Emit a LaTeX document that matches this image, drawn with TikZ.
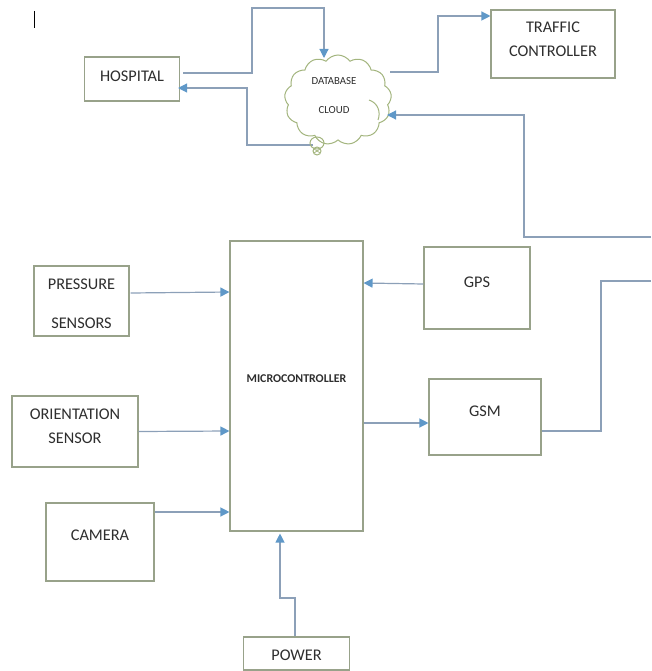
\documentclass[tikz,border=0pt]{standalone}
\usepackage{fontspec}
\setmainfont{Carlito}
\usetikzlibrary{arrows.meta,shapes.symbols}
\definecolor{boxline}{HTML}{98A28A}
\definecolor{cloudline}{HTML}{A3B57E}
\definecolor{wire}{HTML}{8CA0B8}
\definecolor{tip}{HTML}{5F98C8}
\definecolor{ink}{HTML}{2E2E2E}
\newcommand{\liftone}[2]{\makebox[0pt]{\raisebox{#1}[0pt][0pt]{#2}}}
\newcommand{\lifttwo}[4]{\liftone{#1}{#2}\liftone{#3}{#4}}
\tikzset{
  blockbox/.style={draw=boxline,line width=1.1pt,fill=white,inner sep=0pt,text=ink,font=\fontsize{16.3}{19}\selectfont,align=center},
  wirearrow/.style={draw=wire,line width=1.2pt,-{Triangle[length=9pt,width=9pt,fill=tip,color=tip]}},
  wireplain/.style={draw=wire,line width=1.2pt},
  cloudbox/.style={cloud,draw=cloudline,line width=1pt,fill=white,cloud puffs=13,cloud puff arc=110,aspect=1.2,inner sep=0pt,minimum width=107pt,minimum height=90pt,text=ink,font=\fontsize{10.8}{13}\selectfont,align=center}
}
\begin{document}
\begin{tikzpicture}[x=1pt,y=-1pt]
\useasboundingbox (0,0) rectangle (651,671);
% blocks
\node[blockbox,minimum width=95pt,minimum height=44pt] (hosp) at (132,79) {\liftone{-2.5pt}{HOSPITAL}};
\node[blockbox,minimum width=124pt,minimum height=68pt] (traf) at (553,44) {\lifttwo{11pt}{TRAFFIC}{-13pt}{CONTROLLER}};
\node[cloudbox] (db) at (338,100) {\kern-8pt\lifttwo{15.6pt}{DATABASE}{-13.4pt}{CLOUD}};
\node[blockbox,minimum width=133pt,minimum height=290pt,font=\fontsize{11.9}{14}\bfseries\selectfont] (mcu) at (296.5,386) {\liftone{4pt}{MICROCONTROLLER}};
\node[blockbox,minimum width=95pt,minimum height=70pt] (pres) at (81.5,301) {\lifttwo{12pt}{PRESSURE}{-27pt}{SENSORS}};
\node[blockbox,minimum width=126pt,minimum height=71pt] (orie) at (75,431.5) {\lifttwo{12pt}{ORIENTATION}{-12pt}{SENSOR}};
\node[blockbox,minimum width=108pt,minimum height=78pt] (cam) at (100,542) {\liftone{2pt}{CAMERA}};
\node[blockbox,minimum width=106pt,minimum height=82pt] (gps) at (477,288) {\liftone{1pt}{GPS}};
\node[blockbox,minimum width=112pt,minimum height=76pt] (gsm) at (485,417) {\liftone{1pt}{GSM}};
\node[blockbox,minimum width=106pt,minimum height=33pt] (pow) at (296.5,653.5) {\liftone{-6.5pt}{POWER}};
% free ends at the page edge
\coordinate (edgeA) at (651,237);
\coordinate (edgeB) at (651,281);
% cloud connectors
\draw[wirearrow] ([yshift=6pt,xshift=3pt]hosp.east) -- (252,73) -- (252,8) -- (324,8) -- (324,58);
\draw[wirearrow] (313,145) -- (247,145) -- (247,88) -- ([yshift=-9pt,xshift=-2pt]hosp.east);
\draw[wirearrow] (390,72) -- (438,72) -- (438,16) -- ([yshift=28pt]traf.west);
\draw[wirearrow] (edgeA) -- (524,237) -- (524,115) -- (387,115);
% cloud details
\draw[cloudline,line width=1pt] (369,100) .. controls (378,103) and (381,112) .. (378,120);
\draw[cloudline,line width=1pt] (317,143) ellipse[x radius=7pt,y radius=6pt];
\draw[cloudline,line width=1pt] (317,151) circle[radius=4pt];
\draw[cloudline,line width=.7pt] (314,149) -- (320,153) (320,149) -- (314,153);
% inputs
\draw[wirearrow] ([yshift=8pt,xshift=1pt]pres.east) -- ([yshift=94pt]mcu.west);
\draw[wirearrow] (orie.east) -- ([yshift=-45pt]mcu.west);
\draw[wirearrow] ([yshift=30pt]cam.east) -- ([yshift=-126pt]mcu.west);
\draw[wirearrow] ([yshift=4pt]gps.west) -- ([yshift=103pt]mcu.east);
\draw[wirearrow] ([yshift=-37pt]mcu.east) -- ([yshift=-6pt]gsm.west);
\draw[wirearrow] ([xshift=-1.5pt]pow.north) -- (295,598) -- (280,598) -- ([xshift=-16.5pt,yshift=-2pt]mcu.south);
% GSM to page edge
\draw[wireplain] ([yshift=-14pt]gsm.east) -- (601,431) -- (601,281) -- (edgeB);
% cursor mark
\draw[black,line width=1pt] (34,11) -- (34,28);
\end{tikzpicture}
\end{document}
